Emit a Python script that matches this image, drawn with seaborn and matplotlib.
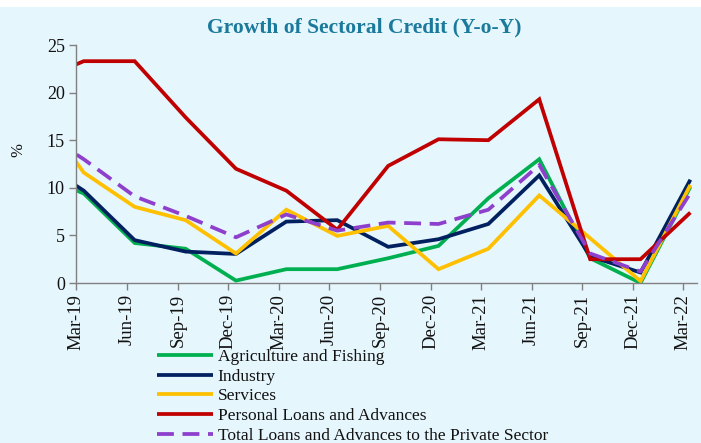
import matplotlib
matplotlib.use("Agg")
import matplotlib.pyplot as plt
import seaborn as sns
import pandas as pd
from matplotlib.patches import Rectangle

# ---- data ----
quarters = ['Dec-18', 'Mar-19', 'Jun-19', 'Sep-19', 'Dec-19', 'Mar-20', 'Jun-20',
            'Sep-20', 'Dec-20', 'Mar-21', 'Jun-21', 'Sep-21', 'Dec-21', 'Mar-22']
agriculture = [11.6, 9.4, 4.2, 3.6, 0.25, 1.45, 1.45, 2.6, 3.9, 8.9, 13.0, 2.6, 0.0, 10.1]
industry = [13.1, 9.7, 4.5, 3.3, 3.05, 6.45, 6.6, 3.8, 4.6, 6.2, 11.3, 2.8, 1.1, 10.85]
services = [18.9, 11.6, 8.0, 6.6, 3.1, 7.7, 4.95, 6.0, 1.45, 3.6, 9.2, 4.7, 0.2, 10.3]
personal = [21.1, 23.3, 23.3, 17.4, 12.0, 9.7, 5.6, 12.3, 15.1, 15.0, 19.3, 2.5, 2.5, 7.4]
total = [16.4, 13.0, 9.1, 7.05, 4.8, 7.2, 5.5, 6.35, 6.2, 7.7, 12.4, 3.1, 1.2, 9.45]

series_names = ['Agriculture and Fishing', 'Industry', 'Services',
                'Personal Loans and Advances',
                'Total Loans and Advances to the Private Sector']
series_values = [agriculture, industry, services, personal, total]
colors = ['#00b050', '#002060', '#ffc000', '#c00000', '#8e3fcc']

tick_labels = quarters[1:]

# observations dated mid-month, ticks on the first of the month
obs_dates = pd.to_datetime(['15-' + q for q in quarters], format='%d-%b-%y')
tick_dates = pd.to_datetime(['01-' + q for q in tick_labels], format='%d-%b-%y')

bg = '#e6f6fd'
sns.set_theme(style='white')
plt.rcParams['font.family'] = ['Liberation Serif', 'DejaVu Serif']

fig = plt.figure(figsize=(7.01, 4.43), dpi=100)
fig.patch.set_facecolor('white')
fig.add_artist(Rectangle((0, 0), 1, 1 - 7 / 443, transform=fig.transFigure,
                         facecolor=bg, edgecolor='none', zorder=-10))

ax = fig.add_axes([76 / 701, 1 - 283 / 443, (697 - 76) / 701, (283 - 45) / 443])
ax.set_facecolor(bg)

for name, vals, col in zip(series_names, series_values, colors):
    df = pd.DataFrame({'date': obs_dates, 'value': vals})
    sns.lineplot(data=df, x='date', y='value', ax=ax, color=col, lw=2.7,
                 label=name, legend=False)
    line = ax.lines[-1]
    line.set_solid_capstyle('butt')
    line.set_solid_joinstyle('miter')
    if name.startswith('Total'):
        line.set_dashes([4.5, 2.3])
        line.set_dash_capstyle('butt')

ax.set_xlim(pd.Timestamp('2019-03-01'), pd.Timestamp('2022-03-27'))
ax.set_ylim(0, 25)
ax.set_yticks([0, 5, 10, 15, 20, 25])
ax.set_xticks(tick_dates)
ax.set_xticklabels(tick_labels, rotation=90, fontsize=13.5, color='#111111')
ax.tick_params(axis='y', labelsize=13, labelcolor='#111111')
ax.tick_params(axis='both', direction='out', length=5, width=1, color='#808080',
               bottom=True, left=True, pad=3)
ax.set_xlabel('')
ax.set_ylabel('')
for s in ['top', 'right']:
    ax.spines[s].set_visible(False)
for s in ['left', 'bottom']:
    ax.spines[s].set_color('#808080')
    ax.spines[s].set_linewidth(1)

fig.text(18 / 701, 1 - 150 / 443, '%', rotation=90, fontsize=12,
         ha='center', va='center', color='#111111')

fig.text(364 / 701, 1 - 27 / 443, 'Growth of Sectoral Credit (Y-o-Y)',
         fontsize=15.5, fontweight='bold', color='#1a7a9c', ha='center', va='center')

handles = ax.lines[:5]
leg = fig.legend(handles, series_names, loc='upper left',
                 bbox_to_anchor=(157 / 701, 1 - 349 / 443),
                 frameon=False, fontsize=12.5, handlelength=3.2,
                 handletextpad=0.3, labelspacing=0.2, borderpad=0,
                 borderaxespad=0)
for t in leg.get_texts():
    t.set_color('#111111')

fig.savefig('out.png', dpi=100, facecolor='white')
